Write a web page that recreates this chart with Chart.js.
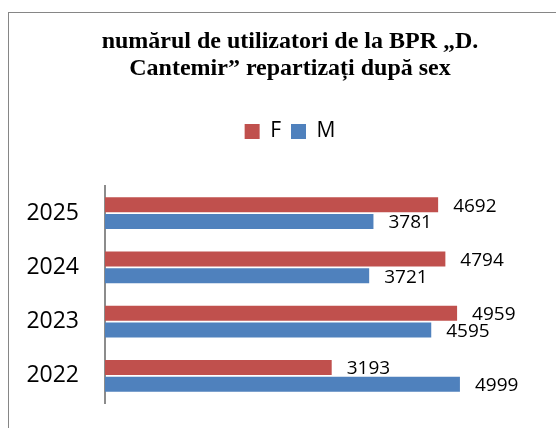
<!DOCTYPE html>
<html>
<head>
<meta charset="utf-8">
<script src="https://cdn.jsdelivr.net/npm/chart.js@4/dist/chart.umd.min.js"></script>
<style>
  html, body { margin: 0; padding: 0; background: #fff; }
  #wrap { position: relative; width: 556px; height: 428px; }
  #frame {
    position: absolute; left: 8px; top: 12px; right: 0; bottom: 0;
    border-top: 1px solid #868686; border-left: 1px solid #868686;
  }
  canvas { position: absolute; left: 0; top: 0; }
</style>
</head>
<body>
<div id="wrap">
  <div id="frame"></div>
  <canvas id="chart" width="556" height="428"></canvas>
</div>
<script>
// date
const years = ['2022', '2023', '2024', '2025'];
const femei = [3193, 4959, 4794, 4692];
const barbati = [4999, 4595, 3721, 3781];
const seriesNames = ['F', 'M'];
const titleLines = ['numărul de utilizatori de la BPR „D.', 'Cantemir” repartizați după sex'];

const RED = '#c0504d';
const BLUE = '#4f81bd';

// etichete cu valori la capătul barelor
const valueLabels = {
    id: 'valueLabels',
    afterDatasetsDraw(chart) {
        const ctx = chart.ctx;
        ctx.save();
        ctx.font = '19px "Open Sans"';
        ctx.fillStyle = '#000';
        ctx.textAlign = 'left';
        ctx.textBaseline = 'middle';
        chart.data.datasets.forEach((ds, i) => {
            const meta = chart.getDatasetMeta(i);
            meta.data.forEach((bar, j) => {
                ctx.fillText(ds.data[j], bar.x + 15, bar.y + 1.5);
            });
        });
        ctx.restore();
    }
};

// titlul si legenda sunt putin mai la dreapta in original
const shiftHeader = {
    id: 'shiftHeader',
    afterLayout(chart) {
        const dx = 16;
        [chart.titleBlock, chart.legend].forEach(box => {
            if (!box) return;
            box.left += dx;
            box.right += dx;
        });
    }
};

new Chart(document.getElementById('chart'), {
    type: 'bar',
    data: {
        labels: years,
        datasets: [
            { label: seriesNames[0], data: femei, backgroundColor: RED, borderWidth: 0 },
            { label: seriesNames[1], data: barbati, backgroundColor: BLUE, borderWidth: 0 }
        ]
    },
    options: {
        indexAxis: 'y',
        responsive: false,
        animation: false,
        categoryPercentage: 0.62,
        barPercentage: 0.9,
        layout: { padding: { left: 17, right: 25, top: 0, bottom: 25 } },
        scales: {
            x: {
                position: 'top',
                min: 0,
                max: 6000,
                ticks: { display: false },
                grid: { display: false },
                border: { display: false },
                // spatiu liber intre legenda si bare
                afterFit(scale) { scale.height = 34; }
            },
            y: {
                reverse: true,
                grid: { display: false, drawTicks: false },
                border: { display: true, color: '#8c8c8c', width: 2 },
                ticks: { color: '#000', font: { family: '"Open Sans"', size: 23 }, padding: 26 },
                afterFit(scale) {
                    scale.width = 88;
                    scale.paddingTop = 0;
                    scale.paddingBottom = 0;
                }
            }
        },
        plugins: {
            title: {
                display: true,
                text: titleLines,
                color: '#000',
                font: { family: '"Liberation Serif"', size: 24, weight: 'bold', lineHeight: '27px' },
                padding: { top: 28, bottom: 29 }
            },
            legend: {
                display: true,
                labels: {
                    color: '#000',
                    boxWidth: 15,
                    boxHeight: 15,
                    padding: 10,
                    font: { family: '"Open Sans"', size: 21 }
                }
            },
            tooltip: { enabled: false }
        }
    },
    plugins: [valueLabels, shiftHeader]
});
</script>
</body>
</html>
